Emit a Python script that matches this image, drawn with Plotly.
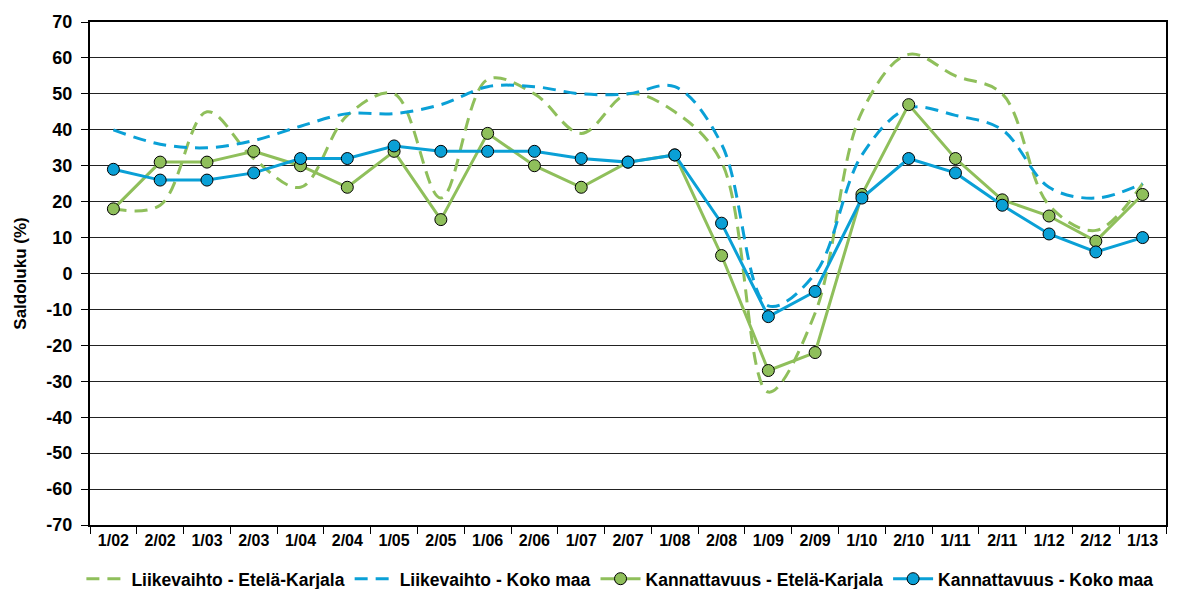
import plotly.graph_objects as go

categories = ["1/02", "2/02", "1/03", "2/03", "1/04", "2/04", "1/05", "2/05", "1/06", "2/06",
              "1/07", "2/07", "1/08", "2/08", "1/09", "2/09", "1/10", "2/10", "1/11", "2/11",
              "1/12", "2/12", "1/13"]

liikevaihto_ek = [18, 19, 45, 32, 24, 44, 50, 21, 54, 50, 39, 50, 45, 31, -33, -11, 45, 61, 55, 50, 19, 12, 25]
liikevaihto_koko = [40, 36, 35, 37, 41, 44.5, 44.5, 47, 52, 52, 50, 50, 52, 36, -9, 0, 33, 46, 44, 40, 24, 21, 25]
kannattavuus_ek = [18, 31, 31, 34, 30, 24, 34, 15, 39, 30, 24, 31, 33, 5, -27, -22, 22, 47, 32, 20.5, 16, 9, 22]
kannattavuus_koko = [29, 26, 26, 28, 32, 32, 35.5, 34, 34, 34, 32, 31, 33, 14, -12, -5, 21, 32, 28, 19, 11, 6, 10]

y_ticks = list(range(-70, 71, 10))
y_ticktext = [str(v) + " " for v in y_ticks]  # plain hyphen minus as in the original

GREEN = "#8fbf5b"
BLUE = "#0aa0d6"
FONT = "Liberation Sans, Arial, sans-serif"

fig = go.Figure()
fig.add_trace(go.Scatter(x=categories, y=liikevaihto_ek, name="Liikevaihto - Etelä-Karjala",
                         mode="lines", line=dict(color=GREEN, width=3, dash="13px,8px", shape="spline", smoothing=1)))
fig.add_trace(go.Scatter(x=categories, y=liikevaihto_koko, name="Liikevaihto - Koko maa",
                         mode="lines", line=dict(color=BLUE, width=3, dash="13px,8px", shape="spline", smoothing=1)))
fig.add_trace(go.Scatter(x=categories, y=kannattavuus_ek, name="Kannattavuus - Etelä-Karjala",
                         mode="lines+markers", line=dict(color=GREEN, width=3),
                         marker=dict(size=12, color=GREEN, line=dict(color="#000", width=1))))
fig.add_trace(go.Scatter(x=categories, y=kannattavuus_koko, name="Kannattavuus - Koko maa",
                         mode="lines+markers", line=dict(color=BLUE, width=3),
                         marker=dict(size=12, color=BLUE, line=dict(color="#000", width=1))))

fig.update_layout(
    width=1169, height=581,
    margin=dict(l=82, r=11, t=14, b=64, autoexpand=False),
    paper_bgcolor="white", plot_bgcolor="white",
    font=dict(family=FONT, color="#000", size=15),
    showlegend=True,
    legend=dict(orientation="h", x=-0.008, xanchor="left", y=-0.107, yanchor="middle",
                font=dict(family=FONT, size=17.5, color="#000", weight="bold"),
                itemwidth=40, tracegroupgap=0, traceorder="normal"),
    xaxis=dict(type="category", showgrid=False, ticks="outside", tickson="boundaries",
               ticklen=7, tickcolor="#000", showline=True, linecolor="#000", linewidth=2,
               mirror=True, automargin=False,
               tickfont=dict(size=16, weight="bold", family=FONT), range=[-0.5, 22.5]),
    yaxis=dict(range=[-70, 70], tickvals=y_ticks, ticktext=y_ticktext, showgrid=True,
               gridcolor="#222", gridwidth=1,
               zeroline=True, zerolinecolor="#222", zerolinewidth=1,
               ticks="outside", ticklen=7, tickcolor="#000", showline=True, linecolor="#000",
               linewidth=2, mirror=True, automargin=False,
               tickfont=dict(size=18, weight="bold", family=FONT),
               title=dict(text="Saldoluku (%)", font=dict(size=17, weight="bold", family=FONT), standoff=15)),
)

fig.write_html("out.html")
